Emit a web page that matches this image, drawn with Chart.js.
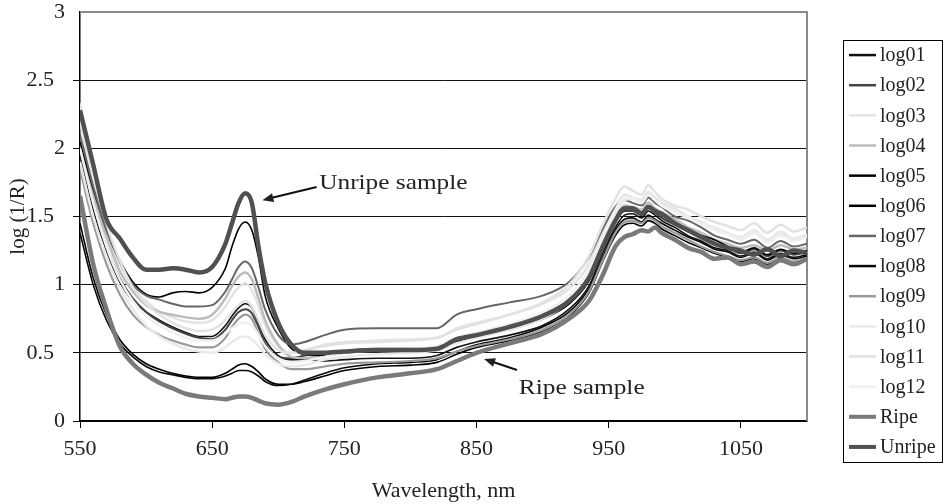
<!DOCTYPE html>
<html>
<head>
<meta charset="utf-8">
<title>log(1/R) spectra</title>
<script src="https://cdn.jsdelivr.net/npm/chart.js@4.4.0/dist/chart.umd.min.js"></script>
<style>
	html, body { margin: 0; padding: 0; background: #fff; }
	canvas { display: block; }
</style>
</head>
<body>
<canvas id="spectraChart" width="944" height="504"></canvas>
<script>
	// wavelength, nm
	var wavelengths = [550, 560, 570, 580, 590, 600, 610, 620, 630, 640,
		650, 660, 665, 670, 675, 680, 685, 690, 700, 710,
		720, 735, 750, 775, 800, 820, 835, 850, 875, 900,
		920, 935, 945, 955, 962, 968, 975, 980, 985, 990,
		1000, 1010, 1020, 1030, 1040, 1050, 1060, 1070, 1080, 1090,
		1100];

	// log(1/R) per sample
	var log01 = [1.95, 1.55, 1.25, 1.02, 0.88, 0.80, 0.74, 0.69, 0.65, 0.62,
		0.62, 0.70, 0.77, 0.83, 0.86, 0.83, 0.72, 0.60, 0.48, 0.45,
		0.45, 0.44, 0.45, 0.46, 0.46, 0.48, 0.54, 0.58, 0.63, 0.70,
		0.82, 0.99, 1.22, 1.42, 1.51, 1.52, 1.49, 1.54, 1.51, 1.47,
		1.42, 1.36, 1.32, 1.27, 1.25, 1.21, 1.24, 1.19, 1.23, 1.20, 1.22];
	var log02 = [2.00, 1.60, 1.28, 1.05, 0.90, 0.80, 0.73, 0.68, 0.64, 0.61,
		0.60, 0.67, 0.74, 0.80, 0.82, 0.79, 0.69, 0.57, 0.47, 0.46,
		0.48, 0.50, 0.51, 0.51, 0.51, 0.52, 0.58, 0.62, 0.68, 0.75,
		0.86, 1.03, 1.26, 1.46, 1.54, 1.54, 1.51, 1.56, 1.53, 1.49,
		1.44, 1.39, 1.34, 1.30, 1.27, 1.23, 1.26, 1.21, 1.25, 1.22, 1.24];
	var log03 = [2.20, 1.75, 1.40, 1.15, 0.98, 0.88, 0.80, 0.76, 0.73, 0.72,
		0.74, 0.84, 0.92, 0.98, 1.01, 0.96, 0.84, 0.70, 0.55, 0.50,
		0.52, 0.56, 0.58, 0.59, 0.60, 0.61, 0.68, 0.72, 0.78, 0.86,
		0.97, 1.15, 1.38, 1.57, 1.66, 1.64, 1.62, 1.68, 1.64, 1.60,
		1.56, 1.50, 1.46, 1.41, 1.38, 1.34, 1.38, 1.32, 1.37, 1.33, 1.36];
	var log04 = [2.05, 1.65, 1.35, 1.10, 0.95, 0.85, 0.80, 0.78, 0.76, 0.75,
		0.78, 0.90, 0.99, 1.06, 1.09, 1.04, 0.90, 0.74, 0.56, 0.47,
		0.46, 0.49, 0.51, 0.53, 0.53, 0.54, 0.60, 0.64, 0.70, 0.78,
		0.89, 1.06, 1.29, 1.49, 1.58, 1.57, 1.55, 1.60, 1.56, 1.53,
		1.48, 1.42, 1.38, 1.33, 1.30, 1.27, 1.29, 1.25, 1.29, 1.26, 1.27];
	var log05 = [2.05, 1.70, 1.40, 1.18, 1.02, 0.93, 0.91, 0.94, 0.95, 0.94,
		0.98, 1.12, 1.28, 1.41, 1.46, 1.40, 1.20, 0.92, 0.68, 0.53,
		0.49, 0.48, 0.50, 0.51, 0.51, 0.52, 0.58, 0.62, 0.67, 0.75,
		0.86, 1.03, 1.26, 1.46, 1.55, 1.56, 1.53, 1.58, 1.55, 1.52,
		1.46, 1.40, 1.36, 1.33, 1.28, 1.24, 1.27, 1.22, 1.26, 1.23, 1.25];
	var log06 = [1.45, 1.05, 0.78, 0.60, 0.49, 0.42, 0.38, 0.35, 0.33, 0.32,
		0.32, 0.35, 0.38, 0.41, 0.42, 0.40, 0.36, 0.31, 0.27, 0.27,
		0.29, 0.33, 0.37, 0.40, 0.41, 0.43, 0.49, 0.54, 0.59, 0.66,
		0.77, 0.94, 1.16, 1.36, 1.44, 1.45, 1.43, 1.47, 1.45, 1.41,
		1.36, 1.31, 1.27, 1.23, 1.20, 1.17, 1.19, 1.15, 1.19, 1.16, 1.18];
	var log07 = [2.10, 1.72, 1.40, 1.17, 1.00, 0.92, 0.89, 0.86, 0.84, 0.84,
		0.85, 0.95, 1.04, 1.13, 1.17, 1.12, 0.98, 0.82, 0.63, 0.56,
		0.58, 0.63, 0.67, 0.68, 0.68, 0.68, 0.78, 0.82, 0.87, 0.92,
		1.02, 1.20, 1.40, 1.57, 1.62, 1.60, 1.58, 1.64, 1.60, 1.57,
		1.50, 1.47, 1.42, 1.36, 1.33, 1.30, 1.33, 1.27, 1.32, 1.28, 1.30];
	var log08 = [1.38, 1.00, 0.74, 0.57, 0.47, 0.40, 0.36, 0.34, 0.32, 0.31,
		0.31, 0.33, 0.35, 0.37, 0.37, 0.36, 0.33, 0.29, 0.26, 0.27,
		0.30, 0.35, 0.39, 0.42, 0.43, 0.45, 0.51, 0.56, 0.61, 0.69,
		0.80, 0.97, 1.19, 1.40, 1.48, 1.49, 1.46, 1.51, 1.48, 1.45,
		1.40, 1.35, 1.31, 1.26, 1.24, 1.20, 1.23, 1.18, 1.22, 1.19, 1.21];
	var log09 = [1.85, 1.45, 1.15, 0.93, 0.78, 0.69, 0.63, 0.59, 0.56, 0.54,
		0.54, 0.61, 0.69, 0.75, 0.78, 0.75, 0.64, 0.53, 0.43, 0.38,
		0.38, 0.40, 0.42, 0.43, 0.44, 0.46, 0.51, 0.55, 0.60, 0.67,
		0.78, 0.95, 1.17, 1.38, 1.46, 1.47, 1.45, 1.49, 1.47, 1.43,
		1.38, 1.33, 1.28, 1.24, 1.21, 1.18, 1.20, 1.16, 1.20, 1.17, 1.19];
	var log10 = [1.90, 1.50, 1.20, 0.98, 0.82, 0.70, 0.62, 0.57, 0.53, 0.51,
		0.50, 0.54, 0.58, 0.61, 0.62, 0.60, 0.55, 0.49, 0.42, 0.40,
		0.41, 0.45, 0.47, 0.49, 0.50, 0.52, 0.57, 0.61, 0.67, 0.75,
		0.88, 1.07, 1.31, 1.52, 1.62, 1.63, 1.60, 1.66, 1.62, 1.58,
		1.54, 1.50, 1.45, 1.42, 1.38, 1.35, 1.40, 1.33, 1.39, 1.34, 1.37];
	var log11 = [2.33, 1.85, 1.45, 1.18, 0.98, 0.86, 0.78, 0.72, 0.68, 0.66,
		0.67, 0.74, 0.80, 0.85, 0.88, 0.84, 0.74, 0.63, 0.52, 0.50,
		0.52, 0.55, 0.57, 0.58, 0.59, 0.61, 0.67, 0.71, 0.78, 0.87,
		1.00, 1.21, 1.43, 1.63, 1.72, 1.69, 1.66, 1.73, 1.68, 1.63,
		1.58, 1.55, 1.50, 1.46, 1.43, 1.40, 1.45, 1.38, 1.44, 1.39, 1.42];
	var log12 = [2.00, 1.60, 1.28, 1.04, 0.88, 0.77, 0.70, 0.65, 0.61, 0.59,
		0.59, 0.64, 0.68, 0.71, 0.72, 0.70, 0.63, 0.55, 0.46, 0.43,
		0.44, 0.47, 0.50, 0.52, 0.53, 0.55, 0.61, 0.65, 0.71, 0.80,
		0.92, 1.11, 1.34, 1.55, 1.64, 1.63, 1.60, 1.66, 1.62, 1.58,
		1.53, 1.49, 1.44, 1.40, 1.37, 1.33, 1.38, 1.31, 1.36, 1.32, 1.35];
	var ripe = [1.65, 1.15, 0.82, 0.55, 0.42, 0.34, 0.28, 0.24, 0.20, 0.18,
		0.17, 0.16, 0.17, 0.18, 0.18, 0.17, 0.15, 0.13, 0.12, 0.14,
		0.18, 0.23, 0.27, 0.32, 0.35, 0.38, 0.44, 0.50, 0.57, 0.64,
		0.75, 0.88, 1.06, 1.28, 1.35, 1.37, 1.40, 1.39, 1.42, 1.38,
		1.33, 1.27, 1.24, 1.19, 1.20, 1.15, 1.17, 1.13, 1.18, 1.15, 1.19];
	var unripe = [2.28, 1.88, 1.48, 1.34, 1.20, 1.11, 1.11, 1.12, 1.11, 1.09,
		1.13, 1.30, 1.45, 1.60, 1.67, 1.60, 1.28, 1.02, 0.72, 0.56,
		0.50, 0.50, 0.51, 0.52, 0.52, 0.53, 0.60, 0.63, 0.69, 0.77,
		0.88, 1.05, 1.27, 1.47, 1.56, 1.56, 1.52, 1.57, 1.54, 1.52,
		1.45, 1.40, 1.35, 1.30, 1.27, 1.25, 1.22, 1.26, 1.21, 1.25, 1.23];

	var seriesNames = ["log01", "log02", "log03", "log04", "log05", "log06", "log07",
		"log08", "log09", "log10", "log11", "log12", "Ripe", "Unripe"];
	var seriesValues = [log01, log02, log03, log04, log05, log06, log07,
		log08, log09, log10, log11, log12, ripe, unripe];

	var yTicks = [0, 0.5, 1, 1.5, 2, 2.5, 3];
	var xTicks = [550, 650, 750, 850, 950, 1050];

	// styles
	var seriesColors = ["#111111", "#444444", "#e4e4e4", "#bcbcbc", "#000000", "#000000", "#666666",
		"#0a0a0a", "#999999", "#eaeaea", "#e2e2e2", "#f0f0f0", "#7a7a7a", "#505050"];
	var seriesWidths = [1.6, 2, 2.5, 2.5, 1.6, 1.6, 2, 1.6, 2.2, 2.5, 2.5, 2.5, 4.5, 4.5];
	var serif = "'Liberation Serif', 'Times New Roman', serif";

	var datasets = seriesNames.map(function (name, i) {
		return {
			label: name,
			data: wavelengths.map(function (w, j) { return { x: w, y: seriesValues[i][j] }; }),
			borderColor: seriesColors[i],
			borderWidth: seriesWidths[i],
			pointRadius: 0,
			cubicInterpolationMode: "monotone",
			fill: false,
			order: seriesNames.length - i
		};
	});

	// gray frame on the top and right of the plot
	var plotFrame = {
		id: "plotFrame",
		beforeDatasetsDraw: function (chart) {
			var a = chart.chartArea, ctx = chart.ctx;
			ctx.save();
			ctx.strokeStyle = "#8a8a8a";
			ctx.lineWidth = 2;
			ctx.beginPath();
			ctx.moveTo(a.left, a.top);
			ctx.lineTo(a.right, a.top);
			ctx.lineTo(a.right, a.bottom);
			ctx.stroke();
			ctx.restore();
		}
	};

	function arrow(ctx, x1, y1, x2, y2) {
		var ang = Math.atan2(y2 - y1, x2 - x1), len = 11, half = 4.5;
		ctx.beginPath();
		ctx.moveTo(x1, y1);
		ctx.lineTo(x2 - Math.cos(ang) * len * 0.8, y2 - Math.sin(ang) * len * 0.8);
		ctx.stroke();
		ctx.beginPath();
		ctx.moveTo(x2, y2);
		ctx.lineTo(x2 - Math.cos(ang) * len - Math.sin(ang) * half, y2 - Math.sin(ang) * len + Math.cos(ang) * half);
		ctx.lineTo(x2 - Math.cos(ang) * len + Math.sin(ang) * half, y2 - Math.sin(ang) * len - Math.cos(ang) * half);
		ctx.closePath();
		ctx.fill();
	}

	// "Unripe sample" / "Ripe sample" callouts, placed in data units
	var callouts = {
		id: "callouts",
		afterDatasetsDraw: function (chart) {
			var xs = chart.scales.x, ys = chart.scales.y, ctx = chart.ctx;
			var notes = [
				{ text: "Unripe sample", at: [731, 1.746], from: [729, 1.717], to: [688, 1.62] },
				{ text: "Ripe sample", at: [882, 0.242], from: [880.6, 0.374], to: [855.7, 0.455] }
			];
			ctx.save();
			ctx.fillStyle = "#222";
			ctx.strokeStyle = "#111";
			ctx.lineWidth = 2;
			notes.forEach(function (n) {
				arrow(ctx, xs.getPixelForValue(n.from[0]), ys.getPixelForValue(n.from[1]),
					xs.getPixelForValue(n.to[0]), ys.getPixelForValue(n.to[1]));
				ctx.save();
				ctx.translate(xs.getPixelForValue(n.at[0]), ys.getPixelForValue(n.at[1]));
				ctx.scale(1.15, 1);
				ctx.font = "22px " + serif;
				ctx.textBaseline = "middle";
				ctx.fillText(n.text, 0, 0);
				ctx.restore();
			});
			ctx.restore();
		}
	};

	// boxed legend on the right
	var legendBox = {
		id: "legendBox",
		afterDraw: function (chart) {
			var ctx = chart.ctx, sets = chart.data.datasets;
			var x0 = 843, y0 = 40, w = 99, h = 422, step = h / sets.length;
			ctx.save();
			ctx.strokeStyle = "#000";
			ctx.lineWidth = 1;
			ctx.strokeRect(x0 + 0.5, y0 + 0.5, w, h);
			ctx.font = "20px " + serif;
			ctx.textBaseline = "middle";
			sets.forEach(function (ds, i) {
				var y = y0 + step * (i + 0.5);
				ctx.strokeStyle = ds.borderColor;
				ctx.lineWidth = Math.max(2.5, Math.min(ds.borderWidth, 4));
				ctx.beginPath();
				ctx.moveTo(849, y);
				ctx.lineTo(876, y);
				ctx.stroke();
				ctx.fillStyle = "#222";
				ctx.fillText(ds.label, 880, y + 1);
			});
			ctx.restore();
		}
	};

	new Chart(document.getElementById("spectraChart"), {
		type: "line",
		data: { datasets: datasets },
		plugins: [plotFrame, callouts, legendBox],
		options: {
			responsive: false,
			animation: false,
			layout: { padding: { left: 0, right: 137, top: 12, bottom: 0 } },
			plugins: {
				legend: { display: false },
				tooltip: { enabled: false }
			},
			scales: {
				x: {
					type: "linear",
					min: 550,
					max: 1100,
					afterBuildTicks: function (scale) {
						scale.ticks = xTicks.map(function (v) { return { value: v }; });
					},
					afterFit: function (scale) {
						scale.height = 83;
						scale.paddingLeft = 0;
						scale.paddingRight = 0;
					},
					border: { color: "#000", width: 1.5 },
					grid: { drawOnChartArea: false, drawTicks: true, tickLength: 7, color: "#000" },
					ticks: {
						color: "#222",
						padding: 8,
						maxRotation: 0,
						font: { family: serif, size: 22 },
						callback: function (v) { return String(v); }
					},
					title: {
						display: true,
						text: "Wavelength, nm",
						color: "#222",
						padding: { top: 0, bottom: 0 },
						font: { family: serif, size: 22 }
					}
				},
				y: {
					min: 0,
					max: 3,
					afterBuildTicks: function (scale) {
						scale.ticks = yTicks.map(function (v) { return { value: v }; });
					},
					afterFit: function (scale) {
						scale.width = 80;
						scale.paddingTop = 0;
						scale.paddingBottom = 0;
					},
					border: { color: "#000", width: 1.5 },
					grid: {
						color: function (c) { return c.tick && c.tick.value === 3 ? "rgba(0,0,0,0)" : "#111"; },
						lineWidth: 1,
						tickLength: 7
					},
					ticks: {
						color: "#222",
						padding: 8,
						font: { family: serif, size: 22 },
						callback: function (v) { return Number.isInteger(v) ? String(v) : v + "\u2002"; }
					},
					title: {
						display: true,
						text: "log (1/R)",
						color: "#222",
						padding: { top: 6, bottom: 0 },
						font: { family: serif, size: 21 }
					}
				}
			}
		}
	});
</script>
</body>
</html>
